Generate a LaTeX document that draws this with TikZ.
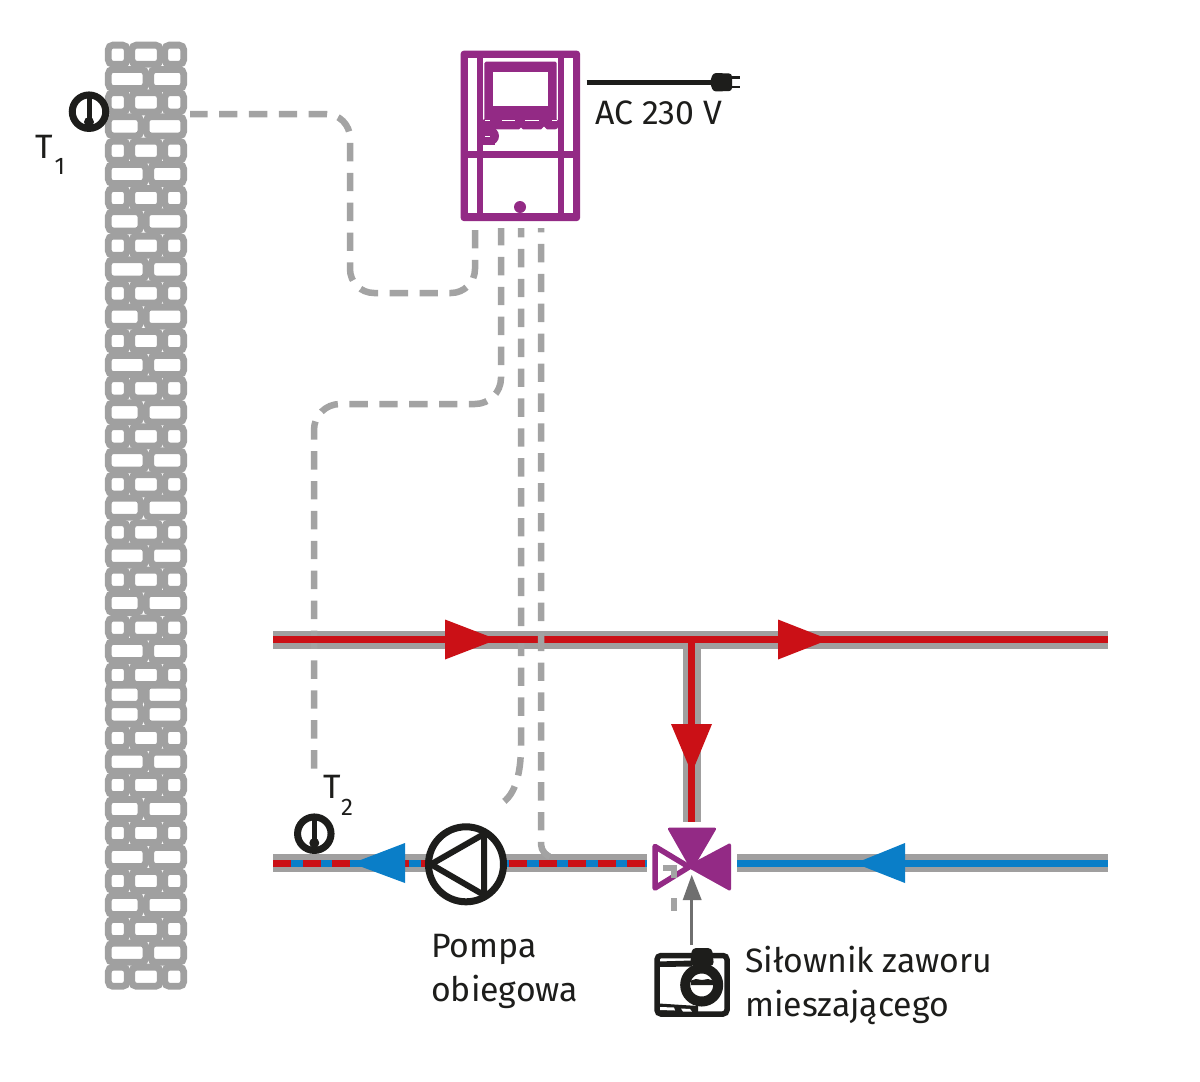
\documentclass[tikz,border=0pt]{standalone}
\usepackage{fontspec}
\setmainfont{Fira Sans}
\definecolor{wallgray}{HTML}{A0A0A0}
\definecolor{pipegray}{HTML}{A09F9F}
\definecolor{wirgray}{HTML}{A3A3A3}
\definecolor{hotred}{HTML}{CB1016}
\definecolor{coldblue}{HTML}{0A7EC8}
\definecolor{ctrl}{HTML}{932A85}
\definecolor{ink}{HTML}{1D1D1B}
\definecolor{stem}{HTML}{6F6F6F}
\tikzset{
  brick/.style={draw=wallgray,line width=6.8pt,rounded corners=4.6pt},
  wire/.style={draw=wirgray,line width=6.5pt,dash pattern=on 18.4pt off 11.5pt},
  pipebase/.style={draw=pipegray,line width=18pt},
  hotline/.style={draw=hotred,line width=7pt},
  coldline/.style={draw=coldblue,line width=6.5pt},
  txt/.style={inner sep=0pt,anchor=base west,text=ink,font=\fontsize{33.8}{34}\selectfont},
  subtxt/.style={inner sep=0pt,anchor=base west,text=ink,font=\fontsize{24}{24}\selectfont},
  sensorring/.style={circle,draw=ink,line width=7pt,fill=white,minimum size=33.5pt,inner sep=0pt},
}
\begin{document}
\begin{tikzpicture}[x=1pt,y=-1pt]
\useasboundingbox (0,0) rectangle (1200,1082);
\fill[white] (0,0) rectangle (1200,1082);
% wall
\foreach \yy in {54.7,102.3,150.7,198,245.7,293.3,341,388.3,436.3,484.3,532.3,579.7,627.7,675,738,785,833,881,929,976.7}{
  \draw[brick] (108.3,\yy-9.6) rectangle (127.2,\yy+9.6);
  \draw[brick] (131.8,\yy-9.6) rectangle (160.2,\yy+9.6);
  \draw[brick] (164.8,\yy-9.6) rectangle (183.7,\yy+9.6);
}
\foreach \yy in {79,174,269.3,365,460.3,555.7,651,761.7,857,952.7}{
  \draw[brick] (108.3,\yy-9.6) rectangle (145.9,\yy+9.6);
  \draw[brick] (150.8,\yy-9.6) rectangle (183.7,\yy+9.6);
}
\foreach \yy in {126.3,221.3,316.7,412.3,507.7,603,694.7,714.3,809,905}{
  \draw[brick] (108.3,\yy-9.6) rectangle (140.9,\yy+9.6);
  \draw[brick] (146.1,\yy-9.6) rectangle (183.7,\yy+9.6);
}
% named points
\coordinate (wallT) at (190,114);
\coordinate (c1) at (475,230);
\coordinate (c2) at (501,228);
\coordinate (c3) at (521,228);
\coordinate (c4) at (541,228);
\coordinate (t2top) at (314,775);
\coordinate (pumpwire) at (497,806);
\coordinate (pipewire) at (556,858);
\coordinate (hookA) at (663,867.5);
\coordinate (hookB) at (673.5,867.5);
\coordinate (hookC) at (673.5,912);
% pipes
\coordinate (topL) at (273,639.5);
\coordinate (topR) at (1108,639.5);
\coordinate (tee) at (691.7,639.5);
\coordinate (teeD) at (691.7,822);
\coordinate (botL) at (273,863.3);
\coordinate (botM) at (647,863.3);
\coordinate (botN) at (737,863.3);
\coordinate (botR) at (1108,863.3);
\draw[pipebase] (topL) -- (topR);
\draw[pipebase] (tee) -- (teeD);
\draw[pipebase] (botL) -- (botM);
\draw[pipebase] (botN) -- (botR);
% wires under the red line
\draw[wire,rounded corners=24pt] (c1) -- (475,293) -- (350,293) -- (350,114) -- (wallT);
\draw[wire,rounded corners=26pt,dash phase=1pt] (c2) -- (501,404) -- (314,404) -- (t2top);
\draw[wire,dash phase=9pt] (c3) -- (521,745) .. controls (521,775) and (515,798) .. (pumpwire);
% pipe cores
\draw[hotline] (topL) -- (topR);
\draw[hotline] (tee) -- (teeD);
\draw[coldline] (botL) -- (botM);
\draw[coldline] (botN) -- (botR);
\draw[hotline,line width=6.5pt,dash pattern=on 18pt off 11.5pt] (botL) -- (botM);
% last wire, over the red line
\draw[wire,dash phase=14pt,rounded corners=12pt] (c4) -- (541,856) -- (pipewire);
% flow arrows
\fill[hotred] (445,619.5) -- (497,639.5) -- (445,659.5) -- cycle;
\fill[hotred] (778,619.5) -- (829,639.5) -- (778,659.5) -- cycle;
\fill[hotred] (671,724) -- (691.7,773) -- (712,724) -- cycle;
\fill[coldblue] (405,843) -- (352,863.3) -- (405,883) -- cycle;
\fill[coldblue] (905,843) -- (855,863.3) -- (905,883) -- cycle;
% pump
\node[circle,draw=ink,line width=7pt,fill=white,minimum size=75pt,inner sep=0pt] (pump) at (466,864.3) {};
\draw[ink,line width=6pt,line join=round] (431,864.3) -- (484,834) -- (484,895) -- cycle;
% valve
\draw[fill=white,draw=ctrl,line width=5.5pt,line join=round] (655,846.5) -- (689,867) -- (655,888) -- cycle;
\draw[wire,line width=6pt,dash pattern=on 21pt off 20pt on 13pt off 100pt] (hookA) -- (hookB) -- (hookC);
\fill[ctrl,draw=ctrl,line width=3pt,line join=round] (669.5,829) -- (714.5,829) -- (691.7,868) -- cycle;
\fill[ctrl,draw=ctrl,line width=3pt,line join=round] (729.5,845) -- (729.5,889) -- (689,866.5) -- cycle;
\coordinate (valve) at (691.7,875);
% actuator stem
\coordinate (actTop) at (691.7,945);
\draw[stem,line width=3pt] (actTop) -- (691.7,898);
\fill[stem] (682.7,900) -- (valve) -- (701.7,900) -- cycle;
% actuator
\draw[ink,line width=5.5pt,fill=white,rounded corners=4pt] (657,955.5) rectangle (727,1014);
\fill[ink] (658,961.5) -- (692,960.5) -- (692,966.5) -- (658,967) -- cycle;
\fill[ink] (659,1003.5) -- (698,1006) -- (698,1012) -- (659,1012) -- cycle;
\fill[white] (660,1007) -- (674,1007.5) -- (675,1010.5) -- (660,1010) -- cycle;
\fill[white] (681,1008.5) -- (690,1009) -- (692,1011.5) -- (683,1011.5) -- cycle;
\fill[ink,rounded corners=4pt] (692,948) -- (712,948) -- (714,966) -- (690,966) -- cycle;
\node[circle,draw=ink,line width=10pt,fill=white,minimum size=33pt,inner sep=0pt] (actuator) at (701.7,985) {};
\fill[ink] (691,980.5) -- (696,979) -- (702,980) -- (708,979) -- (713,980.5) -- (713,985) -- (691,985) -- cycle;
% controller
\fill[ctrl,rounded corners=3pt] (460.7,50.7) rectangle (580,221);
\fill[white] (467.7,57.7) rectangle (476.7,150.7);
\fill[white] (467.7,157.7) rectangle (476.7,213.3);
\fill[white] (564,57.7) rectangle (572.7,150.7);
\fill[white] (564,157.7) rectangle (572.7,213.3);
\fill[white] (482.7,57.7) rectangle (558.3,150.7);
\fill[white] (482.7,157.7) rectangle (558.3,213.3);
\fill[ctrl,rounded corners=1.5pt] (484.3,61.7) rectangle (556.7,122);
\fill[white] (493.3,71.7) rectangle (547.7,105.7);
\fill[ctrl,rounded corners=3pt] (482,119) rectangle (558.3,129.3);
\fill[ctrl] (482,125) rectangle (495,145);
\fill[ctrl] (490,136) circle (9);
\fill[white] (519,129.8) -- (521,127.5) -- (523,129.8) -- cycle;
\fill[white] (541,129.8) -- (544,126.5) -- (547,129.8) -- cycle;
\fill[white] (485,120.3) rectangle (490,121);
\fill[white] (501.7,120.3) rectangle (515,121);
\fill[white] (525,120.3) rectangle (539.3,121);
\fill[white] (551.7,120.3) rectangle (556.7,121);
\fill[white] (485,135.5) rectangle (490,136.3);
\node[circle,fill=ctrl,minimum size=12pt,inner sep=0pt] (ctrldot) at (520,207) {};
% plug
\coordinate (ctrlOut) at (586.7,82.3);
\coordinate (plugIn) at (714,82.3);
\draw[ink,line width=4.5pt] (ctrlOut) -- (plugIn);
\fill[ink,rounded corners=3pt] (713,73) -- (732,73.5) -- (732,91) -- (713,91.5) -- (710,82.3) -- cycle;
\draw[ink,line width=2.8pt] (730,77.7) -- (739.5,77.7);
\draw[ink,line width=2.8pt] (730,86.9) -- (739.5,86.9);
% sensors
\node[sensorring] (T1) at (89,111.7) {};
\draw[ink,line width=5pt] (89,93) -- (89,122);
\fill[ink] (89,122) circle (5);
\node[sensorring] (T2) at (314.3,833.7) {};
\draw[ink,line width=5pt] (314.3,815) -- (314.3,843);
\fill[ink] (314.3,843) circle (5);
% texts
\node[txt] (t1a) at (35,158) {T};
\node[subtxt] (t1b) at (54.5,174.5) {1};
\node[txt] (t2a) at (323,798) {T};
\node[subtxt] (t2b) at (341,815) {2};
\node[txt] (ac) at (595,124.5) {AC 230 V};
\node[txt] (p1) at (431,957.5) {Pompa};
\node[txt] (p2) at (431,1001.5) {obiegowa};
\node[txt] (s1) at (745,972.5) {Siłownik zaworu};
\node[txt] (s2) at (745,1016.5) {mieszającego};
\end{tikzpicture}
\end{document}
